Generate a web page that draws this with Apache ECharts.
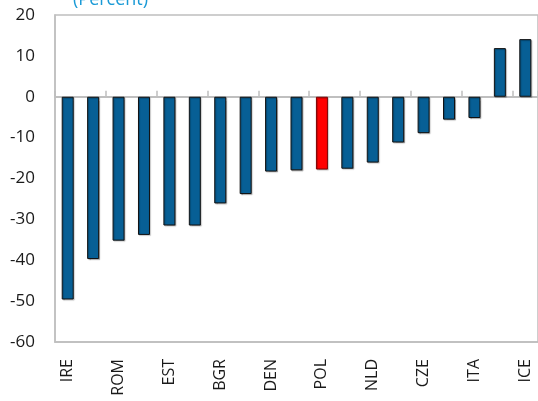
<!DOCTYPE html>
<html>
<head>
<meta charset="utf-8">
<script src="https://cdn.jsdelivr.net/npm/echarts@6/dist/echarts.min.js"></script>
<style>
html,body{margin:0;padding:0;background:#fff;}
#chart{width:538px;height:401px;}
</style>
</head>
<body>
<div id="chart"></div>
<script>
// countries (only every other code is printed on the axis)
var countries = ['IRE','LAT','ROM','LIT','EST','SPA','BGR','HUN','DEN','SLV','POL','FIN','NLD','GBR','CZE','SVK','ITA','GRC','ICE'];
// change, percent
var values = [-49.6,-39.7,-35.2,-33.8,-31.5,-31.5,-26.1,-23.8,-18.3,-18.0,-17.8,-17.6,-16.1,-11.2,-8.9,-5.6,-5.2,11.9,14.1];
var highlight = 'POL';
var yTicks = {min:-60, max:20, step:10};

var chart = echarts.init(document.getElementById('chart'));

var barData = [];
for (var i = 0; i < values.length; i++) {
    var item = {value: values[i]};
    if (countries[i] == highlight) {
        item.itemStyle = {color: '#ff0000', borderColor: '#7a0000'};
    }
    barData.push(item);
}

var font = '"Open Sans", "DejaVu Sans", sans-serif';

var option = {
    animation: false,
    title: {
        text: '(Percent)',
        left: 68,
        top: -14,
        textStyle: {color: '#1a9ad6', fontSize: 18, fontWeight: 'normal', fontFamily: font}
    },
    grid: {
        left: 55,
        top: 15,
        width: 485,
        height: 327,
        show: true,
        borderColor: '#bfbfbf',
        borderWidth: 1.5,
        containLabel: false
    },
    xAxis: [
        {
            type: 'category',
            data: countries,
            position: 'bottom',
            axisLine: {show: true, onZero: false, lineStyle: {color: '#bfbfbf', width: 1.5}},
            axisTick: {show: false},
            axisLabel: {
                interval: 1,
                rotate: 90,
                margin: 17,
                color: '#1a1a1a',
                fontSize: 16,
                fontFamily: font
            }
        },
        {
            type: 'category',
            data: countries,
            position: 'bottom',
            axisLine: {show: true, onZero: true, lineStyle: {color: '#bfbfbf', width: 2}},
            axisTick: {show: true, inside: true, length: 6, lineStyle: {color: '#bfbfbf', width: 1.5}},
            axisLabel: {show: false}
        }
    ],
    yAxis: {
        type: 'value',
        min: yTicks.min,
        max: yTicks.max,
        interval: yTicks.step,
        axisLine: {show: true, lineStyle: {color: '#bfbfbf', width: 1.5}},
        axisTick: {show: false},
        splitLine: {show: false},
        axisLabel: {color: '#1a1a1a', fontSize: 17, margin: 20, fontFamily: font}
    },
    series: [
        {
            type: 'bar',
            xAxisIndex: 0,
            data: barData,
            barWidth: 12,
            itemStyle: {
                color: '#075f95',
                borderColor: '#111111',
                borderWidth: 1,
                shadowColor: 'rgba(0,0,0,0.25)',
                shadowOffsetX: 1,
                shadowOffsetY: 1,
                shadowBlur: 1
            }
        }
    ]
};

chart.setOption(option);
</script>
</body>
</html>
